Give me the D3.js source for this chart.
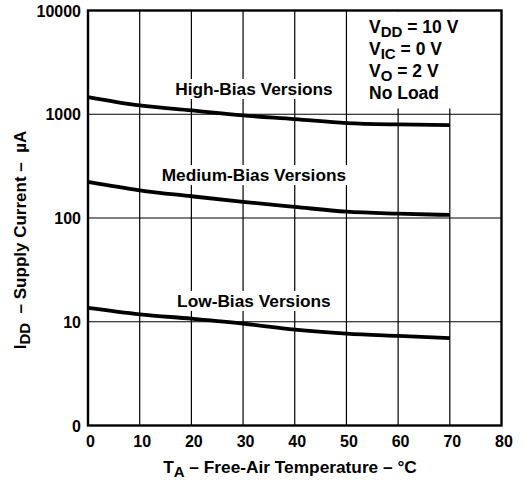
<!DOCTYPE html>
<html>
<head>
<meta charset="utf-8">
<script src="https://cdn.jsdelivr.net/npm/d3@7"></script>
<style>
  html, body { margin: 0; padding: 0; background: #fff; }
  svg { display: block; }
  text { font-family: "Liberation Sans", Arial, Helvetica, sans-serif; font-weight: bold; fill: #000; }
</style>
</head>
<body>
<svg id="chart" width="523" height="483"></svg>
<script>
// ---- data ----
const temps = [0, 10, 20, 30, 40, 50, 60, 70];
const highBias = [1465, 1216, 1088, 974, 899, 823, 797, 787];
const mediumBias = [223, 185, 162, 143, 128, 115, 110, 107];
const lowBias = [13.6, 11.8, 10.7, 9.6, 8.4, 7.7, 7.3, 6.95];
const seriesNames = ["High-Bias Versions", "Medium-Bias Versions", "Low-Bias Versions"];
const xTicks = [0, 10, 20, 30, 40, 50, 60, 70, 80];
const yTicks = [1, 10, 100, 1000, 10000];
const yTickLabels = ["0", "10", "100", "1000", "10000"];
const gridX = [10, 20, 30, 40, 50, 60, 70];
const gridY = [10, 100, 1000];
const conditions = [
  ["V", "DD", " = 10 V"],
  ["V", "IC", " = 0 V"],
  ["V", "O", " = 2 V"],
  ["No Load", "", ""]
];
// label anchor (data coords)
const labelPos = [
  { t: 32.1, v: 1533 },
  { t: 32.1, v: 227 },
  { t: 32.1, v: 13.9 }
];

(function () {
const svg = d3.select("#chart");
const mL = 88, mR = 501.5, mT = 10.5, mB = 425.5;

const x = d3.scaleLinear().domain([0, 80]).range([mL, mR]);
const y = d3.scaleLog().domain([1, 10000]).range([mB, mT]);

// grid
const g = svg.append("g");
g.selectAll("line.gx").data(gridX).join("line")
  .attr("x1", d => x(d)).attr("x2", d => x(d))
  .attr("y1", mT).attr("y2", mB)
  .attr("stroke", "#000").attr("stroke-width", 1.2);
g.selectAll("line.gy").data(gridY).join("line")
  .attr("x1", mL).attr("x2", mR)
  .attr("y1", d => y(d)).attr("y2", d => y(d))
  .attr("stroke", "#000").attr("stroke-width", 1.2);

// annotation block (white background)
const ann = svg.append("g");
const annBg = ann.append("rect").attr("fill", "#fff");
const annText = ann.append("text").attr("font-size", 17.5);
conditions.forEach((c, i) => {
  const t = annText.append("tspan").attr("x", 369).attr("y", 32.5 + i * 22.2);
  t.append("tspan").text(c[0]);
  if (c[1]) {
    t.append("tspan").attr("dy", 4).attr("font-size", 15).text(c[1]);
    t.append("tspan").attr("dy", -4).text(c[2]);
  }
});
annBg.attr("x", 360).attr("y", mT + 1).attr("width", 112).attr("height", 97);

// curves
const series = [highBias, mediumBias, lowBias];
const line = d3.line()
  .x((d, i) => x(temps[i]))
  .y(d => y(d))
  .curve(d3.curveMonotoneX);
svg.selectAll("path.curve").data(series).join("path")
  .attr("class", "curve")
  .attr("d", d => line(d))
  .attr("fill", "none").attr("stroke", "#000").attr("stroke-width", 3.8)
  .attr("stroke-linejoin", "round");

// curve labels with white background
seriesNames.forEach((name, i) => {
  const lg = svg.append("g");
  const bg = lg.append("rect").attr("fill", "#fff");
  const t = lg.append("text")
    .attr("x", x(labelPos[i].t)).attr("y", y(labelPos[i].v))
    .attr("text-anchor", "middle").attr("font-size", 17.3)
    .text(name);
  const bb = t.node().getBBox();
  bg.attr("x", bb.x - 2).attr("y", bb.y).attr("width", bb.width + 4).attr("height", bb.height);
});

// frame
svg.append("rect")
  .attr("x", mL).attr("y", mT)
  .attr("width", mR - mL).attr("height", mB - mT)
  .attr("fill", "none").attr("stroke", "#000").attr("stroke-width", 2.4);

// x tick labels
svg.selectAll("text.xt").data(xTicks).join("text")
  .attr("x", d => x(d) + 2.5).attr("y", 447)
  .attr("text-anchor", "middle").attr("font-size", 16)
  .text(d => d);

// y tick labels
svg.selectAll("text.yt").data(yTicks).join("text")
  .attr("x", 81).attr("y", d => y(d) + 6)
  .attr("text-anchor", "end").attr("font-size", 16)
  .text((d, i) => yTickLabels[i]);

// x axis title
const xt = svg.append("text").attr("x", 290).attr("y", 473)
  .attr("text-anchor", "middle").attr("font-size", 17.3);
xt.append("tspan").text("T");
xt.append("tspan").attr("dy", 4).attr("font-size", 15).text("A");
xt.append("tspan").attr("dy", -4).text(" – Free-Air Temperature – °C");

// y axis title
const yt = svg.append("text")
  .attr("transform", "translate(26,240) rotate(-90)")
  .attr("text-anchor", "middle").attr("font-size", 17);
yt.append("tspan").text("I");
yt.append("tspan").attr("dy", 4).attr("font-size", 15).text("DD");
yt.append("tspan").attr("dy", -4).attr("xml:space", "preserve").text("  – Supply Current –  µA");
})();
</script>
</body>
</html>
